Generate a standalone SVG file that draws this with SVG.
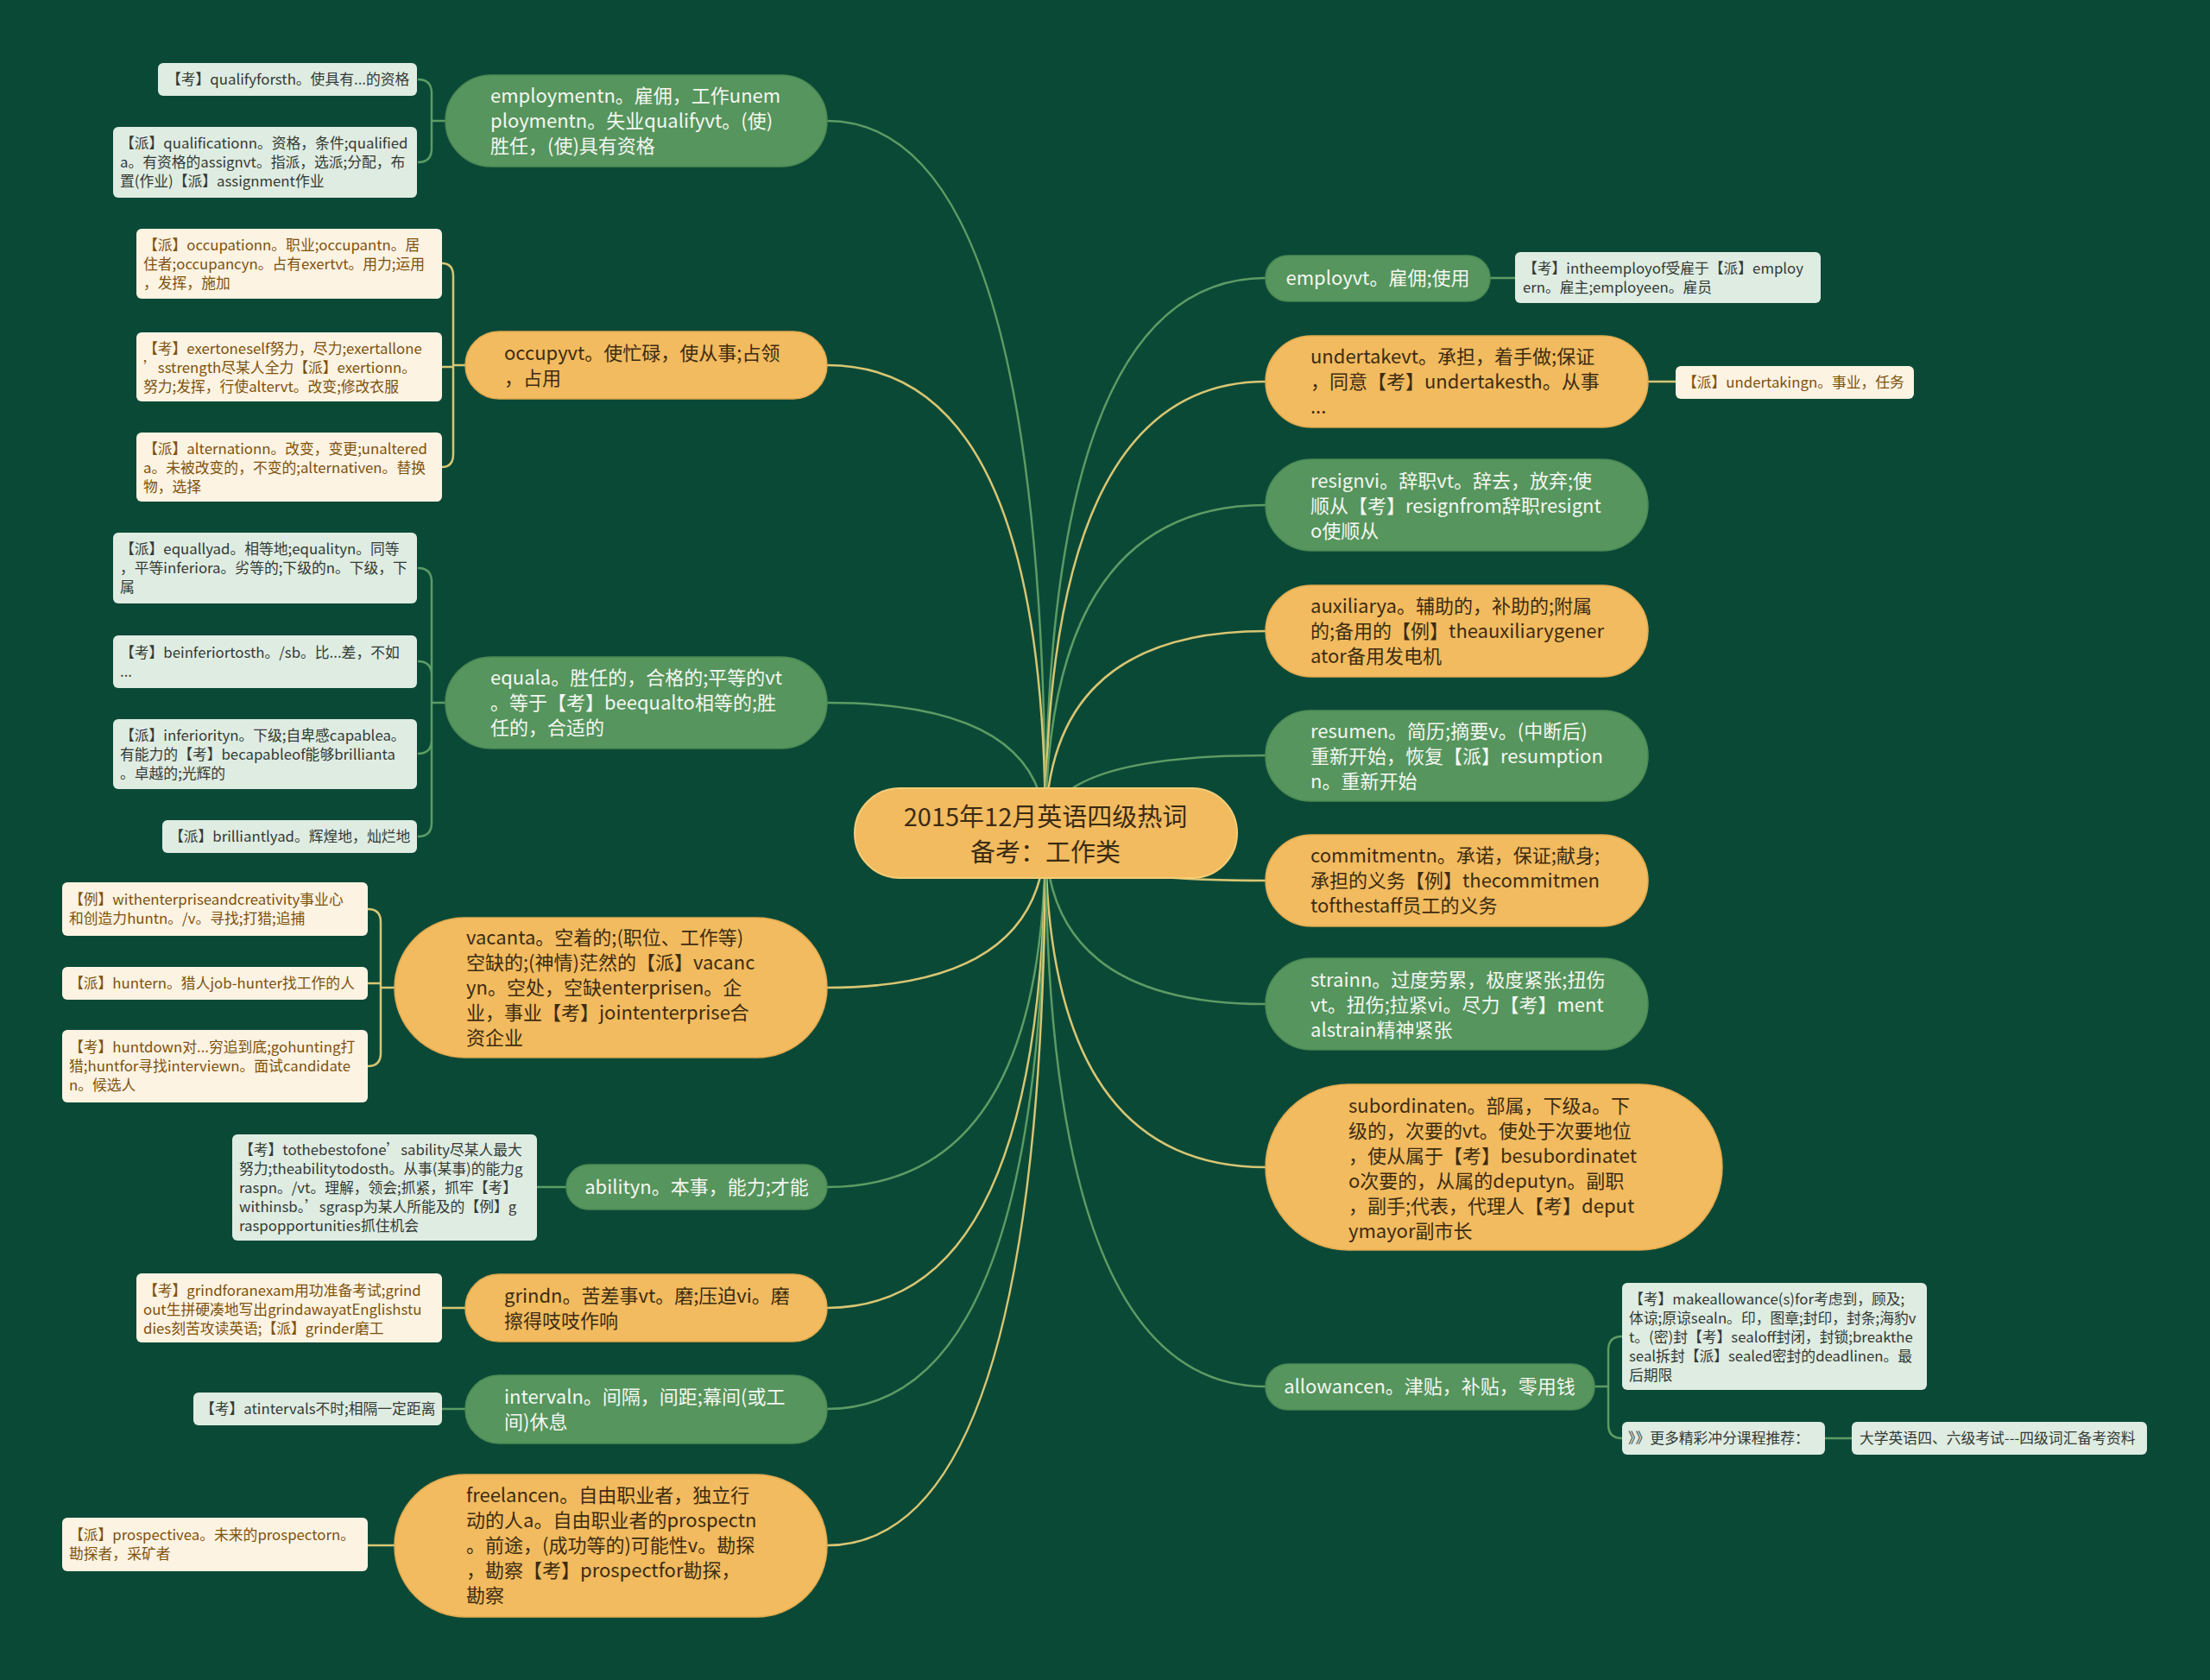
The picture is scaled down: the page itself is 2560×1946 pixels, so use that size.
<svg xmlns="http://www.w3.org/2000/svg" width="2560" height="1946" viewBox="0 0 2560 1946">
<style>
text{font-family:"Noto Sans CJK SC","Noto Sans",sans-serif;}
.gn{fill:#56955d;stroke:#4b8a53;stroke-width:1.5;}
.on{fill:#f2bb5f;stroke:#e2aa4e;stroke-width:1.5;}
.gt{font-size:22px;fill:#f4f7f2;}
.ot{font-size:22px;fill:#3d2c12;}
.gl{fill:#dfece2;}
.ol{fill:#fdf3e2;}
.glt{font-size:16.8px;fill:#333a35;}
.olt{font-size:16.8px;fill:#7d520e;}
.cg{fill:none;stroke:#5c9c64;stroke-width:2.5;}
.cy{fill:none;stroke:#d8c672;stroke-width:2.5;}
</style>
<rect x="0" y="0" width="2560" height="1946" fill="#0b4937"/>
<g id="connectors">
<path class="cg" d="M1211 965 Q1211 140 958 140"/>
<path class="cy" d="M1211 965 Q1211 423 958 423"/>
<path class="cg" d="M1211 965 Q1211 814 958 814"/>
<path class="cy" d="M1211 965 Q1211 1144 958 1144"/>
<path class="cg" d="M1211 965 Q1211 1375 958 1375"/>
<path class="cy" d="M1211 965 Q1211 1515 958 1515"/>
<path class="cg" d="M1211 965 Q1211 1632 958 1632"/>
<path class="cy" d="M1211 965 Q1211 1790 958 1790"/>
<path class="cg" d="M1211 965 Q1211 322 1466 322"/>
<path class="cy" d="M1211 965 Q1211 442 1466 442"/>
<path class="cg" d="M1211 965 Q1211 585 1466 585"/>
<path class="cy" d="M1211 965 Q1211 731 1466 731"/>
<path class="cg" d="M1211 965 Q1211 875 1466 875"/>
<path class="cy" d="M1211 965 Q1211 1020 1466 1020"/>
<path class="cg" d="M1211 965 Q1211 1163 1466 1163"/>
<path class="cy" d="M1211 965 Q1211 1352 1466 1352"/>
<path class="cg" d="M1211 965 Q1211 1606 1466 1606"/>
<path class="cg" d="M516 140 H500 V108 Q500 92 484 92 M500 140 V172 Q500 188 484 188"/>
<path class="cy" d="M539 423 H525 V320 Q525 305 512 305 M525 423 V425 H512 M525 423 V526 Q525 541 512 541"/>
<path class="cg" d="M516 814 H500 V674 Q500 658 484 658 M500 814 V782 Q500 766 484 766 M500 814 V857 Q500 873 484 873 M500 814 V953 Q500 969 484 969"/>
<path class="cy" d="M457 1144 H441 V1068 Q441 1053 426 1053 M441 1144 V1139 H426 M441 1144 V1220 Q441 1235 426 1235"/>
<path class="cg" d="M656 1375 H622"/>
<path class="cy" d="M539 1515 H512"/>
<path class="cg" d="M539 1632 H512"/>
<path class="cy" d="M457 1790 H426"/>
<path class="cg" d="M1726 322 H1755"/>
<path class="cy" d="M1909 442 H1941"/>
<path class="cg" d="M1847 1606 H1863 V1564 Q1863 1548 1879 1548 M1863 1606 V1650 Q1863 1666 1879 1666"/>
<path class="cg" d="M2114 1666 H2145"/>
</g>
<g id="center">
<rect x="990" y="913" width="443" height="104" rx="52" fill="#f2bb5f" stroke="#f6cd77" stroke-width="2"/>
<text x="1211" y="957" text-anchor="middle" font-size="29" fill="#3b2b14">2015年12月英语四级热词</text>
<text x="1211" y="998" text-anchor="middle" font-size="29" fill="#3b2b14">备考：工作类</text>
</g>
<g id="employment">
<rect class="gn" x="516" y="87" width="442" height="106" rx="53"/>
<text class="gt"><tspan x="568" y="119">employmentn。雇佣，工作unem</tspan><tspan x="568" y="148">ploymentn。失业qualifyvt。(使)</tspan><tspan x="568" y="177">胜任，(使)具有资格</tspan></text>
</g>
<g id="occupy">
<rect class="on" x="539" y="384" width="419" height="78" rx="39"/>
<text class="ot"><tspan x="584" y="417">occupyvt。使忙碌，使从事;占领</tspan><tspan x="584" y="446">，占用</tspan></text>
</g>
<g id="equal">
<rect class="gn" x="516" y="761" width="442" height="106" rx="53"/>
<text class="gt"><tspan x="568" y="793">equala。胜任的，合格的;平等的vt</tspan><tspan x="568" y="822">。等于【考】beequalto相等的;胜</tspan><tspan x="568" y="851">任的，合适的</tspan></text>
</g>
<g id="vacant">
<rect class="on" x="457" y="1063" width="501" height="162" rx="81"/>
<text class="ot"><tspan x="540" y="1094">vacanta。空着的;(职位、工作等)</tspan><tspan x="540" y="1123">空缺的;(神情)茫然的【派】vacanc</tspan><tspan x="540" y="1152">yn。空处，空缺enterprisen。企</tspan><tspan x="540" y="1181">业，事业【考】jointenterprise合</tspan><tspan x="540" y="1210">资企业</tspan></text>
</g>
<g id="ability">
<rect class="gn" x="656" y="1349" width="302" height="52" rx="26"/>
<text class="gt" x="807" y="1383" text-anchor="middle">abilityn。本事，能力;才能</text>
</g>
<g id="grind">
<rect class="on" x="539" y="1476" width="419" height="78" rx="39"/>
<text class="ot"><tspan x="584" y="1509">grindn。苦差事vt。磨;压迫vi。磨</tspan><tspan x="584" y="1538">擦得吱吱作响</tspan></text>
</g>
<g id="interval">
<rect class="gn" x="539" y="1593" width="419" height="79" rx="39"/>
<text class="gt"><tspan x="584" y="1626">intervaln。间隔，间距;幕间(或工</tspan><tspan x="584" y="1655">间)休息</tspan></text>
</g>
<g id="freelance">
<rect class="on" x="457" y="1708" width="501" height="165" rx="82"/>
<text class="ot"><tspan x="540" y="1740">freelancen。自由职业者，独立行</tspan><tspan x="540" y="1769">动的人a。自由职业者的prospectn</tspan><tspan x="540" y="1798">。前途，(成功等的)可能性v。勘探</tspan><tspan x="540" y="1827">，勘察【考】prospectfor勘探，</tspan><tspan x="540" y="1856">勘察</tspan></text>
</g>
<g id="employ">
<rect class="gn" x="1466" y="296" width="260" height="53" rx="26"/>
<text class="gt" x="1596" y="330" text-anchor="middle">employvt。雇佣;使用</text>
</g>
<g id="undertake">
<rect class="on" x="1466" y="389" width="443" height="106" rx="53"/>
<text class="ot"><tspan x="1518" y="421">undertakevt。承担，着手做;保证</tspan><tspan x="1518" y="450">，同意【考】undertakesth。从事</tspan><tspan x="1518" y="479">...</tspan></text>
</g>
<g id="resign">
<rect class="gn" x="1466" y="532" width="443" height="106" rx="53"/>
<text class="gt"><tspan x="1518" y="565">resignvi。辞职vt。辞去，放弃;使</tspan><tspan x="1518" y="594">顺从【考】resignfrom辞职resignt</tspan><tspan x="1518" y="623">o使顺从</tspan></text>
</g>
<g id="auxiliary">
<rect class="on" x="1466" y="678" width="443" height="106" rx="53"/>
<text class="ot"><tspan x="1518" y="710">auxiliarya。辅助的，补助的;附属</tspan><tspan x="1518" y="739">的;备用的【例】theauxiliarygener</tspan><tspan x="1518" y="768">ator备用发电机</tspan></text>
</g>
<g id="resume">
<rect class="gn" x="1466" y="823" width="443" height="105" rx="52"/>
<text class="gt"><tspan x="1518" y="855">resumen。简历;摘要v。(中断后)</tspan><tspan x="1518" y="884">重新开始，恢复【派】resumption</tspan><tspan x="1518" y="913">n。重新开始</tspan></text>
</g>
<g id="commitment">
<rect class="on" x="1466" y="967" width="443" height="106" rx="53"/>
<text class="ot"><tspan x="1518" y="999">commitmentn。承诺，保证;献身;</tspan><tspan x="1518" y="1028">承担的义务【例】thecommitmen</tspan><tspan x="1518" y="1057">tofthestaff员工的义务</tspan></text>
</g>
<g id="strain">
<rect class="gn" x="1466" y="1110" width="443" height="106" rx="53"/>
<text class="gt"><tspan x="1518" y="1143">strainn。过度劳累，极度紧张;扭伤</tspan><tspan x="1518" y="1172">vt。扭伤;拉紧vi。尽力【考】ment</tspan><tspan x="1518" y="1201">alstrain精神紧张</tspan></text>
</g>
<g id="subordinate">
<rect class="on" x="1466" y="1256" width="529" height="192" rx="96"/>
<text class="ot"><tspan x="1562" y="1289">subordinaten。部属，下级a。下</tspan><tspan x="1562" y="1318">级的，次要的vt。使处于次要地位</tspan><tspan x="1562" y="1347">，使从属于【考】besubordinatet</tspan><tspan x="1562" y="1376">o次要的，从属的deputyn。副职</tspan><tspan x="1562" y="1405">，副手;代表，代理人【考】deput</tspan><tspan x="1562" y="1434">ymayor副市长</tspan></text>
</g>
<g id="allowance">
<rect class="gn" x="1466" y="1580" width="381" height="53" rx="26"/>
<text class="gt" x="1656" y="1614" text-anchor="middle">allowancen。津贴，补贴，零用钱</text>
</g>
<g id="leaf-qualify1">
<rect class="gl" x="183" y="73" width="300" height="38" rx="6"/>
<text class="glt" x="193" y="98">【考】qualifyforsth。使具有...的资格</text>
</g>
<g id="leaf-qualify2">
<rect class="gl" x="131" y="147" width="352" height="82" rx="6"/>
<text class="glt"><tspan x="139" y="172">【派】qualificationn。资格，条件;qualified</tspan><tspan x="139" y="194">a。有资格的assignvt。指派，选派;分配，布</tspan><tspan x="139" y="216">置(作业)【派】assignment作业</tspan></text>
</g>
<g id="leaf-occupy1">
<rect class="ol" x="158" y="265" width="354" height="81" rx="6"/>
<text class="olt"><tspan x="166" y="290">【派】occupationn。职业;occupantn。居</tspan><tspan x="166" y="312">住者;occupancyn。占有exertvt。用力;运用</tspan><tspan x="166" y="334">，发挥，施加</tspan></text>
</g>
<g id="leaf-occupy2">
<rect class="ol" x="158" y="385" width="354" height="80" rx="6"/>
<text class="olt"><tspan x="166" y="410">【考】exertoneself努力，尽力;exertallone</tspan><tspan x="166" y="432">’sstrength尽某人全力【派】exertionn。</tspan><tspan x="166" y="454">努力;发挥，行使altervt。改变;修改衣服</tspan></text>
</g>
<g id="leaf-occupy3">
<rect class="ol" x="158" y="501" width="354" height="80" rx="6"/>
<text class="olt"><tspan x="166" y="526">【派】alternationn。改变，变更;unaltered</tspan><tspan x="166" y="548">a。未被改变的，不变的;alternativen。替换</tspan><tspan x="166" y="570">物，选择</tspan></text>
</g>
<g id="leaf-equal1">
<rect class="gl" x="131" y="617" width="352" height="82" rx="6"/>
<text class="glt"><tspan x="139" y="642">【派】equallyad。相等地;equalityn。同等</tspan><tspan x="139" y="664">，平等inferiora。劣等的;下级的n。下级，下</tspan><tspan x="139" y="686">属</tspan></text>
</g>
<g id="leaf-equal2">
<rect class="gl" x="131" y="736" width="352" height="61" rx="6"/>
<text class="glt"><tspan x="139" y="762">【考】beinferiortosth。/sb。比...差，不如</tspan><tspan x="139" y="784">...</tspan></text>
</g>
<g id="leaf-equal3">
<rect class="gl" x="131" y="833" width="352" height="81" rx="6"/>
<text class="glt"><tspan x="139" y="858">【派】inferiorityn。下级;自卑感capablea。</tspan><tspan x="139" y="880">有能力的【考】becapableof能够brillianta</tspan><tspan x="139" y="902">。卓越的;光辉的</tspan></text>
</g>
<g id="leaf-equal4">
<rect class="gl" x="188" y="950" width="295" height="38" rx="6"/>
<text class="glt" x="196" y="975">【派】brilliantlyad。辉煌地，灿烂地</text>
</g>
<g id="leaf-vacant1">
<rect class="ol" x="72" y="1022" width="354" height="62" rx="6"/>
<text class="olt"><tspan x="80" y="1048">【例】withenterpriseandcreativity事业心</tspan><tspan x="80" y="1070">和创造力huntn。/v。寻找;打猎;追捕</tspan></text>
</g>
<g id="leaf-vacant2">
<rect class="ol" x="72" y="1120" width="354" height="38" rx="6"/>
<text class="olt" x="80" y="1145">【派】huntern。猎人job-hunter找工作的人</text>
</g>
<g id="leaf-vacant3">
<rect class="ol" x="72" y="1193" width="354" height="84" rx="6"/>
<text class="olt"><tspan x="80" y="1219">【考】huntdown对...穷追到底;gohunting打</tspan><tspan x="80" y="1241">猎;huntfor寻找interviewn。面试candidate</tspan><tspan x="80" y="1263">n。候选人</tspan></text>
</g>
<g id="leaf-ability">
<rect class="gl" x="269" y="1314" width="353" height="123" rx="6"/>
<text class="glt"><tspan x="277" y="1338">【考】tothebestofone’sability尽某人最大</tspan><tspan x="277" y="1360">努力;theabilitytodosth。从事(某事)的能力g</tspan><tspan x="277" y="1382">raspn。/vt。理解，领会;抓紧，抓牢【考】</tspan><tspan x="277" y="1404">withinsb。’sgrasp为某人所能及的【例】g</tspan><tspan x="277" y="1426">raspopportunities抓住机会</tspan></text>
</g>
<g id="leaf-grind">
<rect class="ol" x="158" y="1475" width="354" height="80" rx="6"/>
<text class="olt"><tspan x="166" y="1501">【考】grindforanexam用功准备考试;grind</tspan><tspan x="166" y="1523">out生拼硬凑地写出grindawayatEnglishstu</tspan><tspan x="166" y="1545">dies刻苦攻读英语;【派】grinder磨工</tspan></text>
</g>
<g id="leaf-interval">
<rect class="gl" x="224" y="1613" width="288" height="38" rx="6"/>
<text class="glt" x="232" y="1638">【考】atintervals不时;相隔一定距离</text>
</g>
<g id="leaf-freelance">
<rect class="ol" x="72" y="1758" width="354" height="62" rx="6"/>
<text class="olt"><tspan x="80" y="1784">【派】prospectivea。未来的prospectorn。</tspan><tspan x="80" y="1806">勘探者，采矿者</tspan></text>
</g>
<g id="leaf-employ">
<rect class="gl" x="1755" y="292" width="354" height="59" rx="6"/>
<text class="glt"><tspan x="1764" y="317">【考】intheemployof受雇于【派】employ</tspan><tspan x="1764" y="339">ern。雇主;employeen。雇员</tspan></text>
</g>
<g id="leaf-undertake">
<rect class="ol" x="1941" y="424" width="276" height="38" rx="6"/>
<text class="olt" x="1949" y="449">【派】undertakingn。事业，任务</text>
</g>
<g id="leaf-allowance1">
<rect class="gl" x="1879" y="1486" width="353" height="124" rx="6"/>
<text class="glt"><tspan x="1887" y="1511">【考】makeallowance(s)for考虑到，顾及;</tspan><tspan x="1887" y="1533">体谅;原谅sealn。印，图章;封印，封条;海豹v</tspan><tspan x="1887" y="1555">t。(密)封【考】sealoff封闭，封锁;breakthe</tspan><tspan x="1887" y="1577">seal拆封【派】sealed密封的deadlinen。最</tspan><tspan x="1887" y="1599">后期限</tspan></text>
</g>
<g id="leaf-allowance2">
<rect class="gl" x="1879" y="1647" width="235" height="38" rx="6"/>
<text class="glt" x="1886" y="1672">》》更多精彩冲分课程推荐：</text>
</g>
<g id="leaf-allowance2a">
<rect class="gl" x="2145" y="1647" width="342" height="38" rx="6"/>
<text class="glt" x="2154" y="1672">大学英语四、六级考试---四级词汇备考资料</text>
</g>
</svg>
